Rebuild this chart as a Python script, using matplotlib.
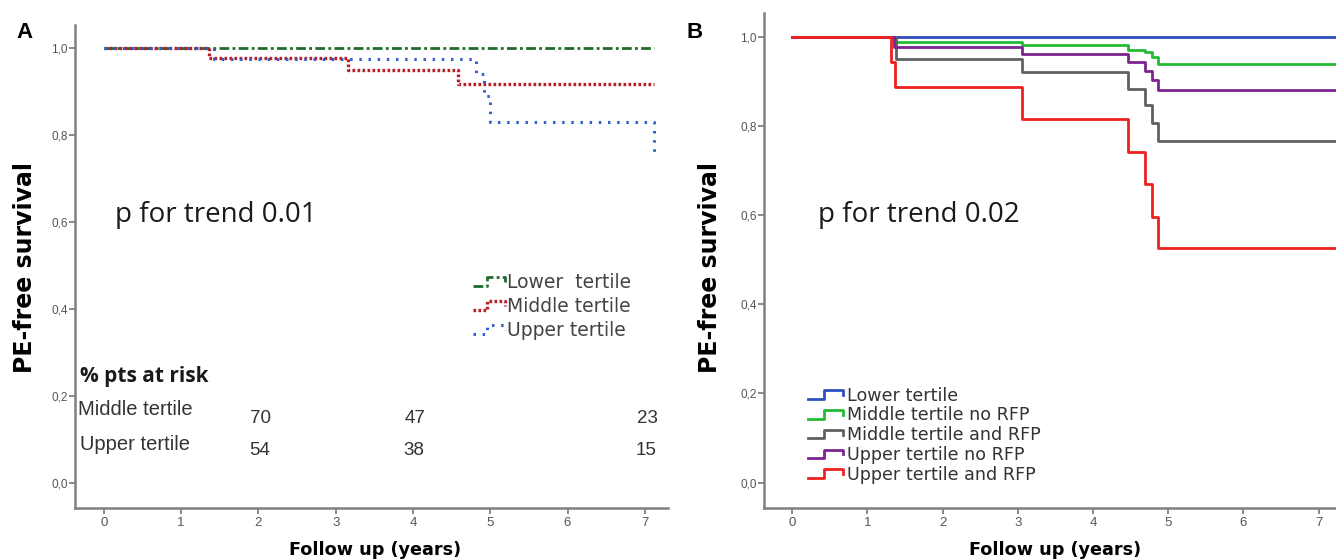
import numpy as np
import matplotlib
matplotlib.use("Agg")
import matplotlib.pyplot as plt
from matplotlib.lines import Line2D
from matplotlib.legend_handler import HandlerBase
from matplotlib.ticker import FuncFormatter

# ---- panel A: survival by tertile ----
a_lower_t = [0, 7.12]
a_lower_s = [1.0, 1.0]
a_middle_t = [0, 1.36, 3.16, 4.58, 7.12]
a_middle_s = [1.0, 0.977, 0.950, 0.917, 0.917]
a_upper_t = [0, 1.42, 4.82, 4.92, 5.0, 7.12]
a_upper_s = [1.0, 0.976, 0.94, 0.89, 0.83, 0.76]

risk_years = [2, 4, 7]
middle_risk = [70, 47, 23]
upper_risk = [54, 38, 15]

# ---- panel B: tertile x RFP ----
b_lower_t = [0, 7.3]
b_lower_s = [1.0, 1.0]
b_midno_t = [0, 1.36, 3.05, 4.46, 4.69, 4.79, 4.87, 7.3]
b_midno_s = [1.0, 0.989, 0.981, 0.971, 0.965, 0.954, 0.939, 0.939]
b_midrfp_t = [0, 1.38, 3.05, 4.46, 4.69, 4.79, 4.87, 7.3]
b_midrfp_s = [1.0, 0.951, 0.920, 0.883, 0.846, 0.806, 0.766, 0.766]
b_upno_t = [0, 1.36, 3.05, 4.46, 4.69, 4.79, 4.87, 7.3]
b_upno_s = [1.0, 0.976, 0.961, 0.943, 0.924, 0.902, 0.881, 0.881]
b_uprfp_t = [0, 1.31, 1.37, 3.05, 4.46, 4.69, 4.79, 4.86, 7.3]
b_uprfp_s = [1.0, 0.943, 0.888, 0.816, 0.741, 0.670, 0.596, 0.527, 0.527]

labels_a = ["Lower  tertile", "Middle tertile", "Upper tertile"]
labels_b = ["Lower tertile", "Middle tertile no RFP", "Middle tertile and RFP",
            "Upper tertile no RFP", "Upper tertile and RFP"]

TICK_FONT = ["Liberation Sans Narrow", "Liberation Sans"]
AX_GRAY = "#808080"


class StepHandler(HandlerBase):
    # small step-shaped legend key, like the SPSS output
    def create_artists(self, legend, orig_handle, xdescent, ydescent,
                       width, height, fontsize, trans):
        xs = np.array([0, 0.45, 0.45, 1, 1]) * width - xdescent
        ys = np.array([0.15, 0.15, 0.85, 0.85, 0.45]) * height - ydescent
        line = Line2D(xs, ys)
        self.update_prop(line, orig_handle, legend)
        line.set_transform(trans)
        return [line]


def comma_fmt(v, pos):
    return f"{v:.1f}".replace(".", ",")


def style_axes(ax, xmin, xmax):
    ax.set_xlim(xmin, xmax)
    ax.set_ylim(-0.057, 1.053)
    for s in ["top", "right"]:
        ax.spines[s].set_visible(False)
    for s in ["left", "bottom"]:
        ax.spines[s].set_color(AX_GRAY)
        ax.spines[s].set_linewidth(1.8)
    ax.set_xticks(range(0, 8))
    ax.set_yticks(np.arange(0, 1.01, 0.2))
    ax.yaxis.set_major_formatter(FuncFormatter(comma_fmt))
    ax.tick_params(axis="both", colors=AX_GRAY, labelcolor="#555555", width=1.3)
    ax.tick_params(axis="x", length=4, pad=2.5, labelsize=9.5)
    ax.tick_params(axis="y", length=4, pad=1, labelsize=8.5)
    for lab in ax.get_xticklabels() + ax.get_yticklabels():
        lab.set_family(TICK_FONT)
    ax.set_ylabel("PE-free survival", fontsize=17, fontweight="bold",
                  family="DejaVu Sans")
    ax.set_xlabel("Follow up (years)", fontsize=12.7, fontweight="bold",
                  family="DejaVu Sans")


fig = plt.figure(figsize=(13.36, 5.59), dpi=100)
ax_a = fig.add_axes([0.0561, 0.0912, 0.4439, 0.864])
ax_b = fig.add_axes([0.5715, 0.0912, 0.4285, 0.8855])

# ---- panel A ----
style_axes(ax_a, -0.375, 7.30)
ax_a.step(a_lower_t, a_lower_s, where="post", color="#1e6b2c", lw=2.0,
          linestyle=(0, (3.5, 1.2, 1, 1.2)), label=labels_a[0])
ax_a.step(a_middle_t, a_middle_s, where="post", color="#b81e24", lw=2.4,
          linestyle=(0, (0.8, 0.7)), label=labels_a[1])
ax_a.step(a_upper_t, a_upper_s, where="post", color="#2f5fd0", lw=2.2,
          linestyle=(0, (0.8, 2.2)), label=labels_a[2])
ax_a.yaxis.set_label_coords(-0.064, 0.497)
ax_a.xaxis.set_label_coords(0.506, -0.068)

ax_a.text(0.14, 0.600, "p for trend 0.01", fontsize=20, family="Open Sans",
          va="baseline", ha="left", color="#1a1a1a")
ax_a.text(-0.31, 0.232, "% pts at risk", fontsize=15, family="Open Sans",
          fontweight="bold", va="baseline", ha="left", color="#1a1a1a")
ax_a.text(-0.336, 0.156, "Middle tertile", fontsize=14.5, family="Liberation Sans",
          va="baseline", ha="left", color="#333333")
ax_a.text(-0.31, 0.076, "Upper tertile", fontsize=14.5, family="Liberation Sans",
          va="baseline", ha="left", color="#333333")
for x, m, u in zip(risk_years, middle_risk, upper_risk):
    ax_a.text(x + 0.03, 0.138, str(m), fontsize=13.5, family=TICK_FONT,
              va="baseline", ha="center", color="#333333")
    ax_a.text(x + 0.01, 0.064, str(u), fontsize=13.5, family=TICK_FONT,
              va="baseline", ha="center", color="#333333")

h_a, _ = ax_a.get_legend_handles_labels()
leg_a = ax_a.legend(h_a, labels_a, handler_map={Line2D: StepHandler()},
                    loc="upper left", bbox_to_anchor=(0.671, 0.486),
                    frameon=False, handlelength=1.7,
                    handletextpad=0.1, labelspacing=0.25, borderpad=0,
                    borderaxespad=0, prop={"family": "DejaVu Sans", "size": 13.5})
for t in leg_a.get_texts():
    t.set_color("#444444")

# ---- panel B ----
style_axes(ax_b, -0.38, 7.23)
b_series = [
    (b_lower_t, b_lower_s, "#2f4fbf"),
    (b_midno_t, b_midno_s, "#22bb33"),
    (b_midrfp_t, b_midrfp_s, "#606060"),
    (b_upno_t, b_upno_s, "#7a2590"),
    (b_uprfp_t, b_uprfp_s, "#ee2020"),
]
for (t, s, c), lab in zip(b_series, labels_b):
    ax_b.step(t, s, where="post", color=c, lw=2.0, label=lab)
ax_b.yaxis.set_label_coords(-0.073, 0.485)
ax_b.xaxis.set_label_coords(0.509, -0.067)
ax_b.text(0.35, 0.584, "p for trend 0.02", fontsize=20, family="Open Sans",
          va="baseline", ha="left", color="#1a1a1a")

h_b, _ = ax_b.get_legend_handles_labels()
leg_b = ax_b.legend(h_b, labels_b, handler_map={Line2D: StepHandler()},
                    loc="upper left", bbox_to_anchor=(0.0777, 0.245),
                    frameon=False, handlelength=2.0, handletextpad=0.2,
                    labelspacing=0.1, borderpad=0, borderaxespad=0,
                    prop={"family": "DejaVu Sans", "size": 12.6})
for t in leg_b.get_texts():
    t.set_color("#333333")

fig.text(25 / 1336, 1 - 32 / 559, "A", fontsize=16, fontweight="bold",
         family="Liberation Sans", va="center", ha="center")
fig.text(695 / 1336, 1 - 32 / 559, "B", fontsize=16, fontweight="bold",
         family="Liberation Sans", va="center", ha="center")

fig.savefig("out.png", dpi=100)
